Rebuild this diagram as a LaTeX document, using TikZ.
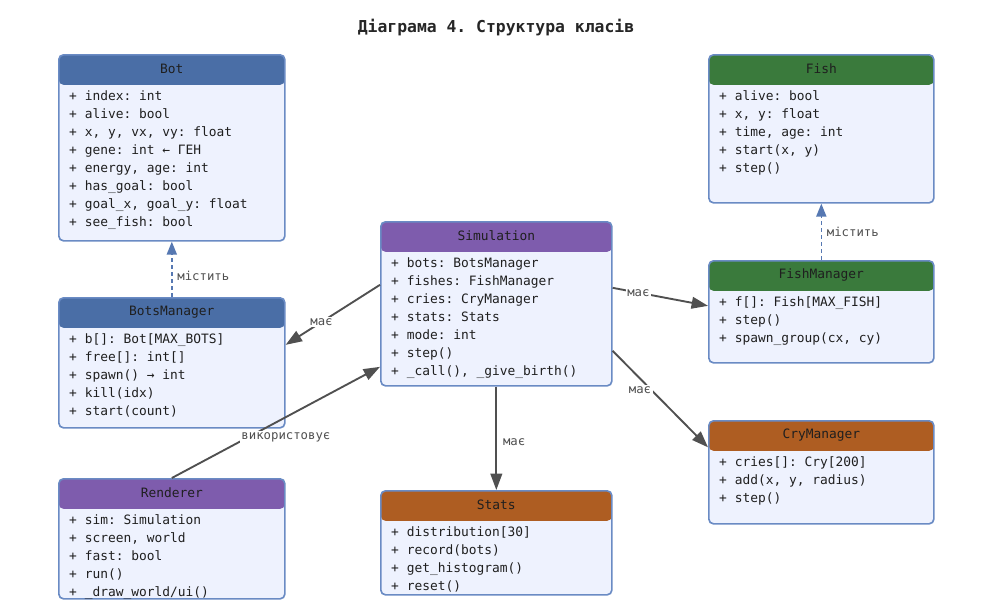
\documentclass[tikz,border=0pt]{standalone}
\usepackage{fontspec}
\setmonofont{DejaVu Sans Mono}
\usepackage{tikz}
\usetikzlibrary{positioning,arrows.meta}

\definecolor{botblue}{HTML}{4A6EA6}
\definecolor{simpurple}{HTML}{7E5CAD}
\definecolor{fishgreen}{HTML}{3A7A3C}
\definecolor{cryorange}{HTML}{AE5D22}
\definecolor{bodyfill}{HTML}{EEF2FE}
\definecolor{borderblue}{HTML}{6A8BC4}
\definecolor{ownsblue}{HTML}{5678B2}
\definecolor{edgegray}{HTML}{505050}

% one pixel of the picture
\newcommand{\px}{0.03cm}

\tikzstyle{classtitle} = [text=black!88, font=\ttfamily\fontsize{11}{13}\selectfont]
\tikzstyle{members}    = [anchor=north west, align=left, inner sep=0pt, text=black!88,
                          font=\ttfamily\fontsize{11}{15.4}\selectfont]
\tikzstyle{has}        = [draw=edgegray, line width=1.6pt, -{Triangle[length=14pt, width=10pt]}]
\tikzstyle{owns}       = [draw=ownsblue, line width=1.4pt, dash pattern=on 3pt off 3pt,
                          -{Triangle[length=11pt, width=8.5pt]}]
\tikzstyle{edgelabel}  = [font=\ttfamily\fontsize{10.5}{12}\selectfont, text=edgegray,
                          fill=white, inner sep=1.5pt]
\tikzset{classbox/.style={draw=borderblue, line width=1.4pt, fill=bodyfill,
    rounded corners=4pt, anchor=north west, inner sep=0pt,
    path picture={\fill[#1] (path picture bounding box.north west)
      rectangle ([yshift=-30*\px]path picture bounding box.north east);}}}

% name, top left corner, width, height, header colour, title, members
\newcommand{\umlclass}[7]{%
  \node[classbox=#5, minimum width=#3*\px, minimum height=#4*\px] (#1) at (#2) {};
  \node[classtitle] (#1-title) at ([yshift=-15*\px]#1.north) {#6};
  \node[members] (#1-members) at ([xshift=11*\px, yshift=-36*\px]#1.north west) {#7};
}

\begin{document}
\begin{tikzpicture}[x=\px, y=-\px]
    \useasboundingbox[fill=white] (0,0) rectangle (992,604);
	% title node
    \node[font=\ttfamily\bfseries\fontsize{14}{16}\selectfont, text=black!85] (title) at (496,28)
        {Діаграма 4. Структура класів};

	% place nodes
    \umlclass{bot}{58,54}{226}{186}{botblue}{Bot}{%
        + index: int\\ + alive: bool\\ + x, y, vx, vy: float\\ + gene: int ← ГЕН\\
        + energy, age: int\\ + has\_goal: bool\\ + goal\_x, goal\_y: float\\ + see\_fish: bool}
    \umlclass{bm}{58,297}{226}{130}{botblue}{BotsManager}{%
        + b[]: Bot[MAX\_BOTS]\\ + free[]: int[]\\ + spawn() → int\\ + kill(idx)\\ + start(count)}
    \umlclass{ren}{58,478}{226}{120}{simpurple}{Renderer}{%
        + sim: Simulation\\ + screen, world\\ + fast: bool\\ + run()\\ + \_draw\_world/ui()}
    \umlclass{sim}{380,221}{231}{164}{simpurple}{Simulation}{%
        + bots: BotsManager\\ + fishes: FishManager\\ + cries: CryManager\\ + stats: Stats\\
        + mode: int\\ + step()\\ + \_call(), \_give\_birth()}
    \umlclass{stats}{380,490}{231}{104}{cryorange}{Stats}{%
        + distribution[30]\\ + record(bots)\\ + get\_histogram()\\ + reset()}
    \umlclass{fish}{708,54}{225}{148}{fishgreen}{Fish}{%
        + alive: bool\\ + x, y: float\\ + time, age: int\\ + start(x, y)\\ + step()}
    \umlclass{fm}{708,260}{225}{102}{fishgreen}{FishManager}{%
        + f[]: Fish[MAX\_FISH]\\ + step()\\ + spawn\_group(cx, cy)}
    \umlclass{cm}{708,420}{225}{103}{cryorange}{CryManager}{%
        + cries[]: Cry[200]\\ + add(x, y, radius)\\ + step()}

	% draw edges
    \path[owns] (bm.north) -- (bot.south)
        node[edgelabel, fill=none, pos=0.39, right=3*\px] {містить};
    \path[owns] (fm.north) -- (fish.south)
        node[edgelabel, fill=none, pos=0.5, right=3*\px] {містить};
    \path[has] ([yshift=19*\px]sim.west) -- ([yshift=18*\px]bm.east)
        node[edgelabel, pos=0.62] {має};
    \path[has] ([yshift=16*\px]sim.east) -- ([yshift=6*\px]fm.west)
        node[edgelabel, pos=0.27] {має};
    \path[has] ([yshift=-47*\px]sim.east) -- ([yshift=25*\px]cm.west)
        node[edgelabel, pos=0.36, xshift=-7*\px, yshift=-5*\px] {має};
    \path[has] (sim.south) -- (stats.north)
        node[edgelabel, fill=none, pos=0.54, right=4*\px] {має};
    \path[has] (ren.north) -- ([yshift=-63*\px]sim.west)
        node[edgelabel, pos=0.5, xshift=10*\px, yshift=-15*\px] {використовує};
\end{tikzpicture}
\end{document}
